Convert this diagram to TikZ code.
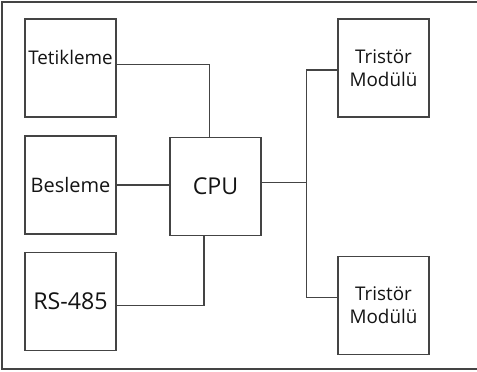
\documentclass[tikz,border=0pt]{standalone}
\usepackage{fontspec}
\setmainfont{Open Sans}
\definecolor{linegray}{RGB}{68, 68, 68}
\definecolor{textblack}{RGB}{20, 20, 20}

\begin{document}
\begin{tikzpicture}[x=0.025cm, y=-0.025cm,
    blok/.style={draw=linegray, line width=0.75pt, minimum width=2.275cm, minimum height=2.45cm, inner sep=0pt, text=textblack, align=center},
    hat/.style={draw=linegray, line width=0.75pt},
    orta/.style={font=\fontsize{13.4pt}{16.5pt}\selectfont},
    buyuk/.style={font=\fontsize{16.5pt}{19pt}\selectfont}]
        \useasboundingbox (0,0) rectangle (477,371);

        % Outer frame (right side falls off the page)
        \draw[hat] (482,2) -- (2,2) -- (2,369) -- (482,369);

        % Left column
        \node[blok] (tet) at (70.5,68) {};
        \node[orta, text=textblack] (tettxt) at (70.5,57) {Tetikleme};
        \node[blok, font=\fontsize{14.2pt}{17pt}\selectfont] (bes) at (70.5,185) {Besleme};
        \node[blok, buyuk] (rs) at (70.5,301.5) {RS-485};

        % CPU
        \node[blok, buyuk] (cpu) at (215.5,186.5) {CPU};

        % Right column
        \node[blok, orta] (tr1) at (383.5,68) {Tristör\\Modülü};
        \node[blok, orta] (tr2) at (383.5,305.5) {Tristör\\Modülü};

        % Connections to the CPU
        \draw[hat] (tet.east |- tettxt.base) -| ([xshift=-4.6pt]cpu.north);
        \draw[hat] (bes.east) -- (bes.east -| cpu.west);
        \draw[hat] ([yshift=-3pt]rs.east) -| ([xshift=-8.2pt]cpu.south);

        % CPU to thyristor modules
        \draw[hat] ([yshift=3pt]cpu.east) -- ++(45,0) coordinate (bus);
        \draw[hat] ([yshift=-1.4pt]tr1.west) -| (bus) |- ([yshift=6pt]tr2.west);
\end{tikzpicture}
\end{document}
